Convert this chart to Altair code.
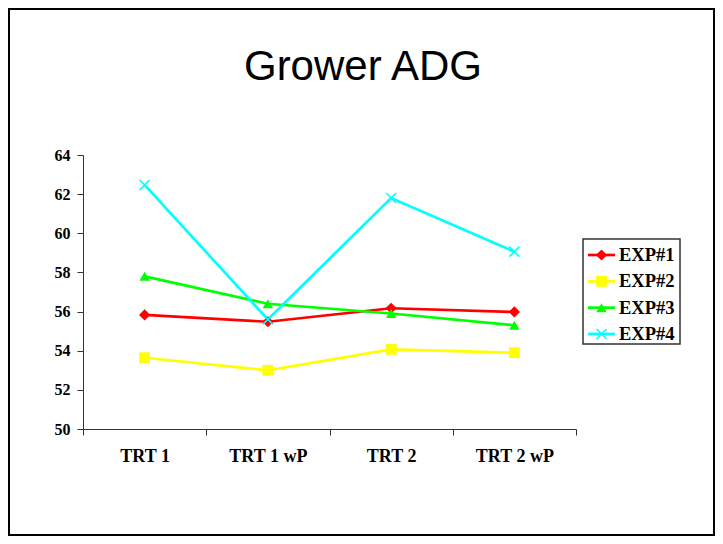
import altair as alt
import pandas as pd

categories = ["TRT 1", "TRT 1 wP", "TRT 2", "TRT 2 wP"]
series = ["EXP#1", "EXP#2", "EXP#3", "EXP#4"]
exp1 = [55.83, 55.48, 56.17, 55.98]
exp2 = [53.64, 53.0, 54.07, 53.9]
exp3 = [57.8, 56.4, 55.9, 55.3]
exp4 = [62.47, 55.6, 61.8, 59.06]
colors = ["#FF0000", "#FFFF00", "#00FF00", "#00FFFF"]
shapes = ["diamond", "square", "triangle-up", "M-1,-1L1,1M1,-1L-1,1"]
marker_sizes = [125, 100, 160, 150]
title_text = ["Grower ADG"]
y_ticks = [50, 52, 54, 56, 58, 60, 62, 64]
filled_series = series[:3]
open_series = series[3:]

rows = []
for s, vals in zip(series, [exp1, exp2, exp3, exp4]):
    for c, v in zip(categories, vals):
        rows.append({"series": s, "trt": c, "adg": v})
df = pd.DataFrame(rows)
leg_df = pd.DataFrame({"series": series})
one_df = pd.DataFrame({"t": title_text})

W, H = 493, 274
PL, PT, PR, PB = 75, 147, 139, 107

color_scale = alt.Scale(domain=series, range=colors)
shape_scale = alt.Scale(domain=series, range=shapes)
size_scale = alt.Scale(domain=series, range=marker_sizes)

axis_col = "#333333"
x_enc = alt.X(
    "trt:N", sort=categories,
    scale=alt.Scale(type="band", paddingInner=0, paddingOuter=0),
    bandPosition=0.5,
    axis=alt.Axis(title=None, labelAngle=0, tickBand="extent", grid=False,
                  domainColor=axis_col, tickColor=axis_col, tickSize=6,
                  labelFont="Liberation Serif", labelFontWeight="bold",
                  labelFontSize=18, labelColor="black", labelPadding=12),
)
y_enc = alt.Y(
    "adg:Q", scale=alt.Scale(domain=[50, 64], nice=False, zero=False),
    axis=alt.Axis(title=None, values=y_ticks, format="d", grid=False,
                  domainColor=axis_col, tickColor=axis_col, tickSize=6,
                  labelFont="Liberation Serif", labelFontWeight="bold",
                  labelFontSize=16, labelColor="black", labelPadding=7),
)
color_enc = alt.Color("series:N", scale=color_scale, legend=None)
shape_enc = alt.Shape("series:N", scale=shape_scale, legend=None)
size_enc = alt.Size("series:N", scale=size_scale, legend=None)

lines = alt.Chart(df).mark_line(strokeWidth=2.7).encode(
    x=x_enc, y=y_enc, color=color_enc, detail="series:N"
)
pts_filled = alt.Chart(df).transform_filter(
    alt.FieldOneOfPredicate(field="series", oneOf=filled_series)
).mark_point(filled=True, opacity=1, strokeWidth=0).encode(
    x=x_enc, y=y_enc, color=color_enc, shape=shape_enc, size=size_enc
)
pts_open = alt.Chart(df).transform_filter(
    alt.FieldOneOfPredicate(field="series", oneOf=open_series)
).mark_point(filled=False, opacity=1, strokeWidth=1.6).encode(
    x=x_enc, y=y_enc, color=color_enc, shape=shape_enc, size=size_enc
)
main = alt.layer(lines, pts_filled, pts_open)

ly = alt.Y("series:N", sort=series,
           scale=alt.Scale(type="point", domain=series, range=[100, 179], padding=0),
           axis=None)
box = alt.Chart(one_df).mark_rect(fill="white", stroke=axis_col, strokeWidth=1.5).encode(
    x=alt.value(500), x2=alt.value(597), y=alt.value(84), y2=alt.value(189)
)
leg_rule = alt.Chart(leg_df).mark_rule(strokeWidth=2.7).encode(
    x=alt.value(505), x2=alt.value(532), y=ly, color=color_enc
)
leg_filled = alt.Chart(leg_df).transform_filter(
    alt.FieldOneOfPredicate(field="series", oneOf=filled_series)
).mark_point(filled=True, opacity=1, strokeWidth=0).encode(
    x=alt.value(518.5), y=ly, color=color_enc, shape=shape_enc, size=size_enc
)
leg_open = alt.Chart(leg_df).transform_filter(
    alt.FieldOneOfPredicate(field="series", oneOf=open_series)
).mark_point(filled=False, opacity=1, strokeWidth=1.6).encode(
    x=alt.value(518.5), y=ly, color=color_enc, shape=shape_enc, size=size_enc
)
leg_txt = alt.Chart(leg_df).mark_text(
    align="left", baseline="middle", font="Liberation Serif",
    fontWeight="bold", fontSize=18.5, color="black"
).encode(x=alt.value(536), y=ly, text="series:N")
legend = alt.layer(box, leg_rule, leg_filled, leg_open, leg_txt)

frame = alt.Chart(one_df).mark_rect(fillOpacity=0, stroke="black", strokeWidth=2).encode(
    x=alt.value(-PL + 1), x2=alt.value(W + PR - 1),
    y=alt.value(-PT + 1), y2=alt.value(H + PB - 1)
)
title = alt.Chart(one_df).mark_text(
    font="Liberation Sans", fontSize=42, align="center", baseline="alphabetic", color="black"
).encode(x=alt.value(280), y=alt.value(-75), text="t:N")

chart = alt.layer(frame, title, main, legend).resolve_scale(
    y="independent"
).properties(
    width=W, height=H,
    padding={"left": PL, "top": PT, "right": PR, "bottom": PB},
    autosize=alt.AutoSizeParams(type="none"),
    background="white",
).configure_view(stroke="transparent")

chart.save("out.html", embed_options={"renderer": "svg", "actions": False})
